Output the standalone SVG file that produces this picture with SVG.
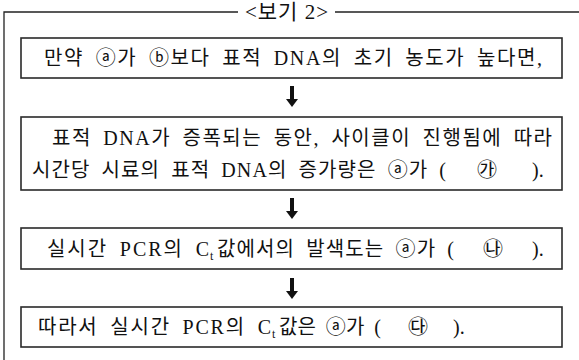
<svg xmlns="http://www.w3.org/2000/svg" width="579" height="360" viewBox="0 0 579 360">
<style>
.box{fill:#fff;stroke:#2a2a2a;stroke-width:1.6}
.t{font-family:"Liberation Serif","Noto Sans CJK KR",serif;font-size:20px;word-spacing:5px;fill:#111}
.ttl{font-family:"Liberation Serif","Noto Sans CJK KR",serif;font-size:21px;fill:#111}
.sub{font-family:"Liberation Serif",serif;font-size:12px;fill:#111}
.frame{fill:none;stroke:#222;stroke-width:1.3}
.arr{fill:#111}
</style>
<rect width="579" height="360" fill="#fff"/>
<g id="frame">
<path class="frame" d="M4,360 V12 H238 M335,12 H579"/>
<text class="ttl" x="287" y="19" text-anchor="middle" letter-spacing="1">&lt;보기 2&gt;</text>
</g>
<g id="box1">
<rect class="box" x="21" y="38" width="541" height="40"/>
<text class="t" x="44" y="65" textLength="498" lengthAdjust="spacing">만약 ⓐ가 ⓑ보다 표적 DNA의 초기 농도가 높다면,</text>
</g>
<g id="box2">
<rect class="box" x="21" y="117" width="541" height="73"/>
<text class="t" x="52" y="145" textLength="500" lengthAdjust="spacing">표적 DNA가 증폭되는 동안, 사이클이 진행됨에 따라</text>
<text class="t" x="32" y="177" textLength="414" lengthAdjust="spacing">시간당 시료의 표적 DNA의 증가량은 ⓐ가 (</text>
<text class="t" x="487" y="177" text-anchor="middle">㉮</text>
<text class="t" x="532" y="177">).</text>
</g>
<g id="box3">
<rect class="box" x="21" y="228" width="541" height="41"/>
<text class="t" x="47" y="256" textLength="162" lengthAdjust="spacing">실시간 PCR의 C</text>
<text class="sub" x="210" y="260">t</text>
<text class="t" x="217" y="256" textLength="237" lengthAdjust="spacing">값에서의 발색도는 ⓐ가 (</text>
<text class="t" x="493" y="256" text-anchor="middle">㉯</text>
<text class="t" x="532" y="256">).</text>
</g>
<g id="box4">
<rect class="box" x="21" y="307" width="541" height="40"/>
<text class="t" x="38" y="334" textLength="233" lengthAdjust="spacing">따라서 실시간 PCR의 C</text>
<text class="sub" x="272" y="338">t</text>
<text class="t" x="279" y="334" textLength="102" lengthAdjust="spacing">값은 ⓐ가 (</text>
<text class="t" x="418" y="334" text-anchor="middle">㉰</text>
<text class="t" x="453" y="334">).</text>
</g>
<g id="connectors">
<path class="arr" d="M290,86 H294 V99 H298 L292,107 L286,99 H290 Z"/>
<path class="arr" d="M290,198 H294 V211 H298 L292,219 L286,211 H290 Z"/>
<path class="arr" d="M290,278 H294 V291 H298 L292,299 L286,291 H290 Z"/>
</g>
</svg>
